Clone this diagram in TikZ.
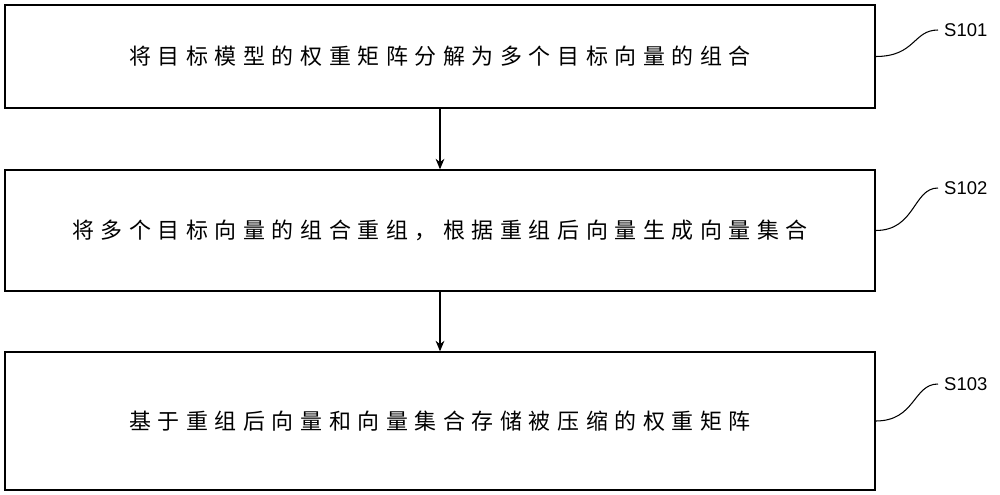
\documentclass[tikz,border=0pt]{standalone}
\usepackage{fontspec}
\newfontfamily\cjk{Noto Sans CJK SC}[LetterSpace=30]
\setsansfont{Liberation Sans}
\usetikzlibrary{arrows.meta,positioning}
\tikzset{
  stepbox/.style={draw, line width=0.8pt, minimum width=17.4cm, inner sep=0pt,
    font=\cjk\fontsize{12.5}{15}\selectfont},
  steplabel/.style={font=\sffamily\fontsize{10.5}{12}\selectfont, anchor=west},
  flow/.style={-{Stealth[length=6pt,width=5pt]}, line width=0.6pt}
}
\begin{document}
\begin{tikzpicture}[x=0.02cm,y=-0.02cm]
\useasboundingbox (0,0) rectangle (1000,494);
% Steps
\node[stepbox, minimum height=2.06cm] (b1) at (440,56.5) {将目标模型的权重矩阵分解为多个目标向量的组合};
\node[stepbox, minimum height=2.42cm] (b2) at (440,230.5) {将多个目标向量的组合重组，根据重组后向量生成向量集合};
\node[stepbox, minimum height=2.76cm] (b3) at (440,421) {基于重组后向量和向量集合存储被压缩的权重矩阵};
% Labels
\node[steplabel] (l1) at (938,30) {S101};
\node[steplabel] (l2) at (938,188) {S102};
\node[steplabel] (l3) at (938,384) {S103};
\foreach \b/\l in {b1/l1,b2/l2,b3/l3}
  \draw[line width=0.6pt] (\b.east) .. controls ++(40,0) and ++(-25,0) .. (\l.west);
% Arrows
\draw[flow] (b1.south) -- (b2.north);
\draw[flow] (b2.south) -- (b3.north);
\end{tikzpicture}
\end{document}
